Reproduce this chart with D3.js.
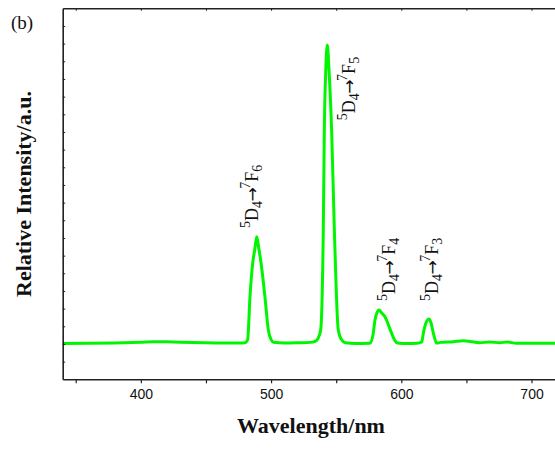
<!DOCTYPE html>
<html>
<head>
<meta charset="utf-8">
<script src="https://cdn.jsdelivr.net/npm/d3@7"></script>
<style>
  html, body { margin: 0; padding: 0; background: #fff; }
  svg { display: block; }
</style>
</head>
<body>
<svg id="chart" width="555" height="450"></svg>
<script>
// ---- data ----
const wavelength = [340, 360, 380, 400, 410, 420, 440, 460, 476, 480, 482, 483.8, 485.9, 487.5, 489, 490.5, 492.3, 495.3, 497.9, 500, 502, 510, 520, 530, 533.7, 536, 538.1, 540.1, 540.9, 542, 543.2, 544.5, 546.5, 548.6, 551.6, 554, 557, 565, 575, 576, 578.5, 579.8, 581, 582.9, 585, 587.5, 590, 592.6, 595, 597, 605, 612, 615.7, 616.9, 618.5, 620, 621.3, 622.8, 624.6, 627.2, 630, 640, 647.6, 655, 660, 668, 675.6, 681, 688.6, 700, 750];
const intensity  = [203, 204, 206, 210, 213, 212, 208, 206, 205, 207, 225, 467, 658, 735, 807, 745, 658, 467, 279, 225, 210, 206, 207, 209, 215, 230, 279, 845, 1411, 1750, 1892, 1750, 1411, 845, 279, 225, 207, 203, 204, 205, 262, 336, 370, 392, 375, 354, 310, 260, 220, 206, 203, 204, 211, 260, 310, 335, 341, 320, 262, 205, 209, 213, 218, 212, 207, 211, 207, 211, 204, 204, 204];

const xMajorTicks = [400, 500, 600, 700];
const xMinorTicks = [350, 450, 550, 650, 750];
const yTicks = [100, 200, 300, 400, 500, 600, 700, 800, 900, 1000, 1100, 1200, 1300, 1400, 1500, 1600, 1700, 1800, 1900, 2000];

// transition label anchors (data space) and final subscripts
const labelWavelength = [490, 564.4, 595.2, 628.2];
const labelIntensity  = [856, 1467, 443, 443];
const labelFinalSub   = ["6", "5", "4", "3"];

const xTitle = "Wavelength/nm";
const yTitle = "Relative Intensity/a.u.";
const panelLabel = "(b)";

// ---- layout ----
const svg = d3.select("#chart");
const mLeft = 62.7, mTop = 8.3, mBottom = 379.3;
const x = d3.scaleLinear().domain([340, 750]).range([mLeft, mLeft + 410 * 1.3023]);
const y = d3.scaleLinear().domain([0, 2100]).range([mBottom, mTop]);

const axisColor = "#222";

// curve
const line = d3.line()
  .x((d, i) => x(wavelength[i]))
  .y((d, i) => y(intensity[i]))
  .curve(d3.curveMonotoneX);

svg.append("path")
  .datum(intensity)
  .attr("d", line)
  .attr("fill", "none")
  .attr("stroke", "#00f500")
  .attr("stroke-width", 3)
  .attr("stroke-linejoin", "round");

// bottom axis (major with labels)
const gx = svg.append("g").attr("transform", `translate(0,${mBottom})`)
  .call(d3.axisBottom(x).tickValues(xMajorTicks).tickSize(4).tickSizeOuter(0).tickPadding(6));
gx.select(".domain").attr("stroke", axisColor).attr("stroke-width", 1.6);
gx.selectAll(".tick line").attr("stroke", axisColor).attr("stroke-width", 1.2);
gx.selectAll(".tick text").attr("font-family", "'Liberation Sans', Arial, sans-serif").attr("font-size", 14).attr("fill", "#111");

// bottom minor ticks
const gxm = svg.append("g").attr("transform", `translate(0,${mBottom})`)
  .call(d3.axisBottom(x).tickValues(xMinorTicks).tickSize(4).tickSizeOuter(0).tickFormat(""));
gxm.select(".domain").remove();
gxm.selectAll(".tick line").attr("stroke", axisColor).attr("stroke-width", 1.2);

// top axis (ticks inward)
const gt = svg.append("g").attr("transform", `translate(0,${mTop})`)
  .call(d3.axisBottom(x).tickValues(xMajorTicks.concat(xMinorTicks)).tickSize(2.5).tickSizeOuter(0).tickFormat(""));
gt.select(".domain").attr("stroke", axisColor).attr("stroke-width", 1.6);
gt.selectAll(".tick line").attr("stroke", axisColor).attr("stroke-width", 1);

// left axis (ticks inward)
const gy = svg.append("g").attr("transform", `translate(${mLeft},0)`)
  .call(d3.axisRight(y).tickValues(yTicks).tickSize(2.5).tickSizeOuter(0).tickFormat(""));
gy.select(".domain").attr("stroke", axisColor).attr("stroke-width", 1.6);
gy.selectAll(".tick line").attr("stroke", axisColor).attr("stroke-width", 1);

// axis titles
svg.append("text")
  .attr("x", 311).attr("y", 433)
  .attr("text-anchor", "middle")
  .attr("font-family", "'Liberation Serif', 'Times New Roman', serif")
  .attr("font-weight", "bold").attr("font-size", 22)
  .attr("fill", "#111")
  .text(xTitle);

svg.append("text")
  .attr("transform", "translate(31,194) rotate(-90)")
  .attr("text-anchor", "middle")
  .attr("font-family", "'Liberation Serif', 'Times New Roman', serif")
  .attr("font-weight", "bold").attr("font-size", 22)
  .attr("fill", "#111")
  .text(yTitle);

svg.append("text")
  .attr("x", 11).attr("y", 29)
  .attr("font-family", "'Liberation Serif', 'Times New Roman', serif")
  .attr("font-size", 19)
  .attr("fill", "#111")
  .text(panelLabel);

// transition labels
labelWavelength.forEach((wl, i) => {
  const t = svg.append("text")
    .attr("transform", `translate(${x(wl)},${y(labelIntensity[i])}) rotate(-90)`)
    .attr("font-family", "'Liberation Serif', 'Times New Roman', serif")
    .attr("font-size", 18)
    .attr("fill", "#111");
  t.append("tspan").attr("font-size", 14).attr("dy", -8).text("5");
  t.append("tspan").attr("dy", 8).text("D");
  t.append("tspan").attr("font-size", 14).attr("dy", 4).text("4");
  t.append("tspan").attr("dy", -4).attr("dx", -0.5)
    .attr("font-family", "'DejaVu Sans', sans-serif").attr("font-size", 17).text("\u2192");
  t.append("tspan").attr("font-size", 14).attr("dy", -8).attr("dx", -1.5).text("7");
  t.append("tspan").attr("dy", 8).text("F");
  t.append("tspan").attr("font-size", 14).attr("dy", 4).text(labelFinalSub[i]);
});
</script>
</body>
</html>
